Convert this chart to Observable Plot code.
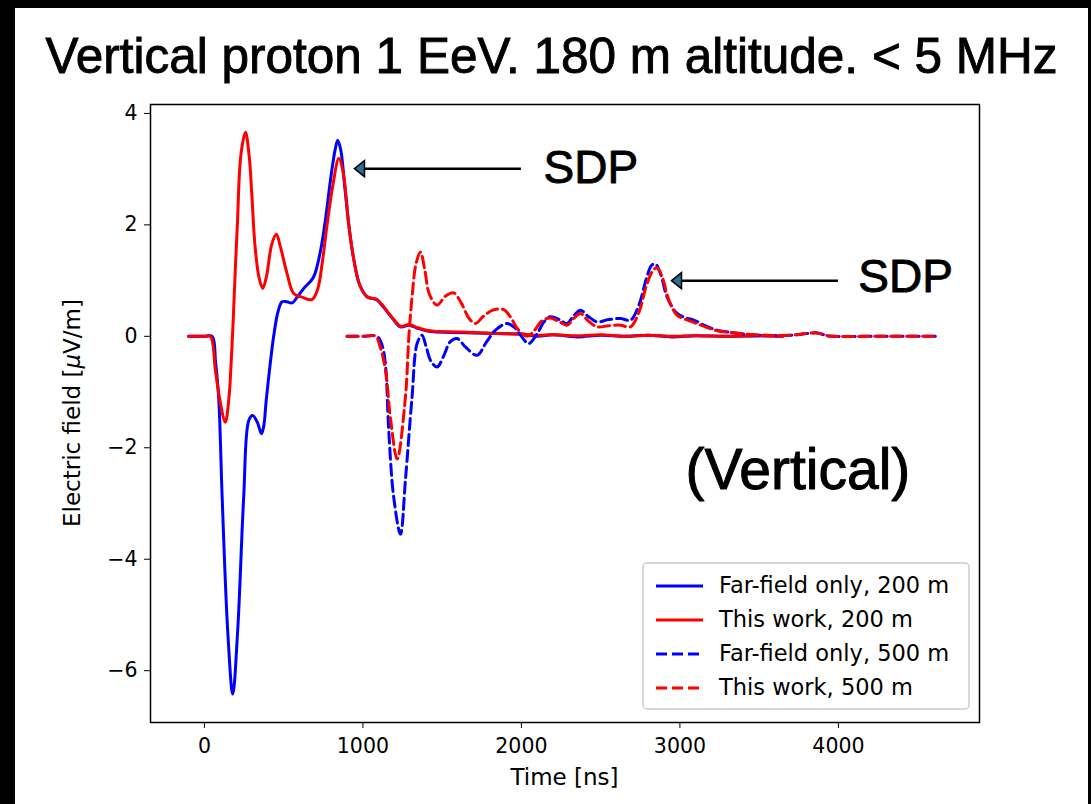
<!DOCTYPE html>
<html>
<head>
<meta charset="utf-8">
<script src="https://cdn.jsdelivr.net/npm/d3@7"></script>
<script src="https://cdn.jsdelivr.net/npm/@observablehq/plot@0.6"></script>
<style>
  html, body { margin: 0; padding: 0; background: #000; width: 1091px; height: 804px; overflow: hidden; }
  #panel { position: absolute; left: 15px; top: 8px; width: 1073px; height: 796px; background: #fff; }
  #title { position: absolute; left: 15px; top: 31px; width: 1073px; text-align: center;
           font-family: "Liberation Sans", Arial, sans-serif; font-size: 49.5px; line-height: 49px; color: #000;
           -webkit-text-stroke: 0.9px #000; }
  #chart { position: absolute; left: 15px; top: 90px; }
</style>
</head>
<body>
<div id="panel"></div>
<div id="title">Vertical proton 1 EeV. 180 m altitude. &lt; 5 MHz</div>
<div id="chart"></div>
<script>
// ---- Data ----
const seriesNames = ["Far-field only, 200 m", "This work, 200 m", "Far-field only, 500 m", "This work, 500 m"];
const seriesColors = ["#0000ff", "#ff0000", "#0000ff", "#ff0000"];
const seriesDashed = [false, false, true, true];

const timeFF200 = [-100, 0, 49, 70, 90, 112, 147, 179, 210, 248, 280, 305, 335, 360, 375, 390, 415, 437, 465, 490, 520, 553, 590, 627, 688, 730, 759, 800, 825, 841, 860, 885, 911, 940, 980, 1026, 1089, 1131, 1190, 1237, 1290, 1340, 1400, 1450, 1550, 1700, 1850, 2000, 2100, 2200, 2350, 2500, 2650, 2800, 2950, 3100, 3300, 3500, 3650];
const fieldFF200 = [0, 0, 0, -0.45, -1.09, -2.88, -5.28, -6.42, -5.28, -2.88, -1.51, -1.42, -1.55, -1.75, -1.6, -1.15, -0.5, 0.0, 0.45, 0.62, 0.62, 0.6, 0.72, 0.86, 1.06, 1.5, 2.0, 2.9, 3.35, 3.52, 3.35, 2.7, 2.0, 1.42, 0.92, 0.71, 0.65, 0.52, 0.31, 0.17, 0.2, 0.15, 0.1, 0.08, 0.07, 0.06, 0.05, 0.04, 0.0, 0.03, -0.01, 0.02, 0.0, 0.02, -0.01, 0.01, 0.0, 0.01, 0.0];

const timeTW200 = [-100, 0, 38, 69, 95, 132, 155, 170, 182, 195, 208, 230, 259, 282, 300, 320, 345, 368, 392, 425, 454, 480, 522, 563, 620, 679, 715, 745, 774, 810, 848, 875, 911, 940, 980, 1026, 1089, 1131, 1190, 1237, 1290, 1340, 1400, 1450, 1550, 1700, 1850, 2000, 2100, 2200, 2350, 2500, 2650, 2800, 2950, 3100, 3300, 3500, 3650];
const fieldTW200 = [0, 0, 0, -0.6, -1.1, -1.54, -1.1, -0.4, 0.3, 1.2, 2.0, 3.25, 3.66, 3.25, 2.5, 1.6, 1.05, 0.86, 1.08, 1.65, 1.83, 1.6, 1.12, 0.77, 0.7, 0.66, 0.85, 1.35, 2.0, 2.7, 3.19, 2.95, 2.0, 1.42, 0.92, 0.71, 0.66, 0.53, 0.32, 0.18, 0.21, 0.16, 0.11, 0.09, 0.08, 0.07, 0.05, 0.04, 0.02, 0.03, 0.01, 0.03, 0.0, 0.02, 0.0, 0.01, 0.0, 0.01, 0.0];

const timeFF500 = [900, 1000, 1089, 1120, 1142, 1163, 1194, 1237, 1268, 1310, 1342, 1373, 1400, 1430, 1468, 1510, 1550, 1594, 1650, 1720, 1780, 1840, 1910, 1960, 2000, 2046, 2100, 2140, 2183, 2240, 2288, 2330, 2372, 2420, 2477, 2550, 2625, 2688, 2740, 2790, 2820, 2845, 2880, 2920, 2982, 3040, 3087, 3160, 3235, 3350, 3508, 3700, 3800, 3866, 3930, 3970, 4200, 4400, 4630];
const fieldFF500 = [0, 0, 0, -0.15, -0.5, -1.69, -2.88, -3.55, -2.59, -1.09, -0.13, 0.02, -0.2, -0.45, -0.55, -0.35, -0.1, -0.04, -0.2, -0.34, -0.1, 0.12, 0.23, 0.15, 0.0, -0.13, 0.05, 0.25, 0.35, 0.3, 0.23, 0.37, 0.47, 0.36, 0.26, 0.3, 0.32, 0.29, 0.55, 1.05, 1.27, 1.3, 1.1, 0.7, 0.41, 0.33, 0.29, 0.19, 0.11, 0.06, 0.02, 0.02, 0.05, 0.06, 0.01, 0.0, 0.0, 0.0, 0.0];

const timeTW500 = [900, 1000, 1080, 1110, 1142, 1175, 1216, 1268, 1290, 1310, 1335, 1363, 1390, 1420, 1468, 1520, 1573, 1620, 1670, 1710, 1760, 1820, 1888, 1930, 1980, 2036, 2080, 2130, 2183, 2240, 2288, 2330, 2372, 2420, 2477, 2550, 2625, 2688, 2740, 2790, 2830, 2856, 2890, 2930, 2982, 3040, 3087, 3160, 3235, 3350, 3508, 3700, 3800, 3866, 3930, 3970, 4200, 4400, 4630];
const fieldTW500 = [0, 0, 0, -0.2, -0.6, -1.5, -2.2, -1.1, 0.0, 0.7, 1.3, 1.51, 1.2, 0.75, 0.56, 0.72, 0.78, 0.6, 0.32, 0.23, 0.36, 0.47, 0.48, 0.35, 0.12, 0.0, 0.1, 0.28, 0.33, 0.26, 0.2, 0.32, 0.41, 0.28, 0.17, 0.19, 0.2, 0.17, 0.42, 0.92, 1.18, 1.23, 1.05, 0.65, 0.38, 0.3, 0.25, 0.17, 0.1, 0.06, 0.02, 0.02, 0.05, 0.06, 0.01, 0.0, 0.0, 0.0, 0.0];

const xTicks = [0, 1000, 2000, 3000, 4000];
const yTicks = [-6, -4, -2, 0, 2, 4];

// annotations
const annLabels = ["SDP", "SDP"];
const annTextX = [2140, 4125];
const annTextY = [3.02, 1.06];
const arrowTipX = [950, 2950];
const arrowTailX = [2000, 4000];
const arrowY = [3.0, 0.99];
const panelLabel = "(Vertical)";
const panelLabelX = 3035;
const panelLabelY = -2.41;

// ---- Build tables ----
const seriesTimes = [timeFF200, timeTW200, timeFF500, timeTW500];
const seriesFields = [fieldFF200, fieldTW200, fieldFF500, fieldTW500];
const tables = seriesTimes.map((ts, i) => ts.map((t, j) => ({t, v: seriesFields[i][j]})));
const annotations = annLabels.map((s, i) => ({s, x: annTextX[i], y: annTextY[i], tip: arrowTipX[i], tail: arrowTailX[i], ay: arrowY[i]}));

const lineMarks = tables.map((data, i) => Plot.line(data, {
  x: "t", y: "v", stroke: seriesColors[i], strokeWidth: 3,
  strokeDasharray: seriesDashed[i] ? "11,5" : null,
  curve: "catmull-rom"
}));

const plot = Plot.plot({
  width: 1073, height: 714,
  marginLeft: 135, marginRight: 109, marginTop: 14, marginBottom: 82,
  style: {fontFamily: "DejaVu Sans", fontSize: "20.5px", color: "#000", background: "transparent", overflow: "visible"},
  x: {domain: [-340, 4890], ticks: xTicks, tickFormat: d => String(d), tickSize: 6, tickPadding: 10, label: null},
  y: {domain: [-6.93, 4.16], ticks: yTicks, tickFormat: d => d < 0 ? "\u2212" + Math.abs(d) : String(d), tickSize: 6, tickPadding: 7, label: null},
  marks: [
    ...lineMarks,
    Plot.frame({stroke: "#000", strokeWidth: 1.5}),
    Plot.text(annotations, {x: "x", y: "y", text: "s", textAnchor: "start", lineAnchor: "middle",
      fontFamily: "Liberation Sans", fontSize: 46, fill: "#000", stroke: "#000", strokeWidth: 0.9}),
    Plot.text([panelLabel], {x: panelLabelX, y: panelLabelY, text: d => d, textAnchor: "start", lineAnchor: "middle",
      fontFamily: "Liberation Sans", fontSize: 57, fill: "#000", stroke: "#000", strokeWidth: 1})
  ]
});
document.getElementById("chart").appendChild(plot);

// ---- Post-processing: arrows, axis labels, legend ----
const svg = d3.select(plot);
const sx = plot.scale("x"), sy = plot.scale("y");
const gA = svg.append("g");
annotations.forEach(a => {
  const tx = sx.apply(a.tip), ty = sy.apply(a.ay), bx = sx.apply(a.tail);
  gA.append("line").attr("x1", bx).attr("x2", tx + 9).attr("y1", ty).attr("y2", ty)
    .attr("stroke", "#000").attr("stroke-width", 2.5);
  gA.append("path").attr("d", `M${tx},${ty}L${tx + 10},${ty - 8}L${tx + 10},${ty + 8}Z`)
    .attr("fill", "#2c6e9a").attr("stroke", "#000").attr("stroke-width", 1.5).attr("stroke-linejoin", "miter");
});

// axis labels
svg.append("text").attr("x", 549.5).attr("y", 688).attr("text-anchor", "middle").attr("dominant-baseline", "middle")
  .attr("font-family", "DejaVu Sans").attr("font-size", 23).attr("fill", "#000").text("Time [ns]");
const yl = svg.append("text").attr("transform", "translate(58,323) rotate(-90)").attr("text-anchor", "middle")
  .attr("dominant-baseline", "middle").attr("font-family", "DejaVu Sans").attr("font-size", 23).attr("fill", "#000");
yl.append("tspan").text("Electric field [");
yl.append("tspan").attr("font-style", "italic").text("\u03bc");
yl.append("tspan").text("V/m]");

// legend
const lg = svg.append("g").attr("text-anchor", "start");
lg.append("rect").attr("x", 628).attr("y", 473).attr("width", 326).attr("height", 146).attr("rx", 4)
  .attr("fill", "#fff").attr("fill-opacity", 0.85).attr("stroke", "#cccccc").attr("stroke-width", 1.5);
seriesNames.forEach((name, i) => {
  const yy = 496 + i * 34;
  lg.append("line").attr("x1", 641).attr("x2", 688).attr("y1", yy).attr("y2", yy)
    .attr("stroke", seriesColors[i]).attr("stroke-width", 3)
    .attr("stroke-dasharray", seriesDashed[i] ? "11,5" : null);
  lg.append("text").attr("x", 704).attr("y", yy).attr("text-anchor", "start").attr("dominant-baseline", "middle")
    .attr("font-family", "DejaVu Sans").attr("font-size", 22.5).attr("fill", "#000").text(name);
});
</script>
</body>
</html>
